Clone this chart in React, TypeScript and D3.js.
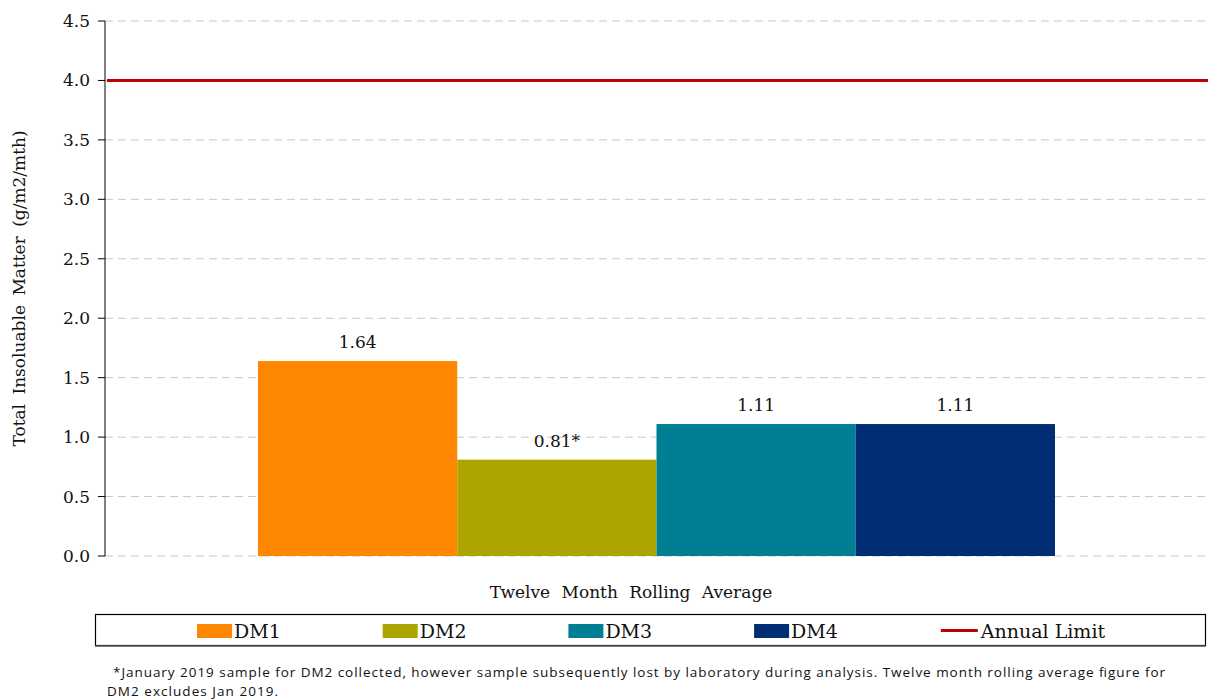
import React, { useEffect } from 'react';
import * as d3 from 'd3';

const category = 'Twelve Month Rolling Average';
const series = ['DM1', 'DM2', 'DM3', 'DM4'];
const values = [1.64, 0.81, 1.11, 1.11];
const valueLabels = ['1.64', '0.81*', '1.11', '1.11'];
const colors = ['#FF8600', '#ADA400', '#007E94', '#002D74'];
const annualLimit = 4.0;
const yTicks = [0, 0.5, 1, 1.5, 2, 2.5, 3, 3.5, 4, 4.5];
const footnote = [
  '*January 2019 sample for DM2 collected, however sample subsequently lost by laboratory during analysis. Twelve month rolling average figure for',
  'DM2 excludes Jan 2019.',
];

const W = 1208;
const H = 700;
const margin = { top: 21, right: 0, bottom: 144, left: 105 };
const serif = '"DejaVu Serif", "Liberation Serif", serif';
const sans = '"Open Sans", "Liberation Sans", sans-serif';

export default function App() {
  useEffect(() => {
    document.body.style.margin = '0';
  }, []);

  const x0 = d3.scaleBand().domain([category]).range([margin.left, W - margin.right]).paddingInner(0).paddingOuter(0.192);
  const x1 = d3.scaleBand().domain(series).range([0, x0.bandwidth()]).padding(0);
  const y = d3.scaleLinear().domain([0, 4.5]).range([H - margin.bottom, margin.top]);

  const legendItems = [...series, 'Annual Limit'];

  return (
    <svg width={W} height={H} style={{ display: 'block', background: '#fff' }}>
      {/* gridlines */}
      {yTicks.map(t => (
        <line key={'g' + t} x1={margin.left} x2={W} y1={y(t)} y2={y(t)}
          stroke="#c8c8c8" strokeWidth={1} strokeDasharray="8,5" />
      ))}

      {/* bars */}
      {series.map((s, i) => (
        <rect key={s} x={x0(category)! + x1(s)!} y={y(values[i])} width={x1.bandwidth()}
          height={y(0) - y(values[i])} fill={colors[i]} />
      ))}

      {/* value labels */}
      {series.map((s, i) => (
        <text key={'l' + s} x={x0(category)! + x1(s)! + x1.bandwidth() / 2} y={y(values[i]) - 13}
          textAnchor="middle" fontFamily={serif} fontSize={17} fill="#111">{valueLabels[i]}</text>
      ))}

      {/* annual limit */}
      <line x1={margin.left + 2} x2={W} y1={y(annualLimit)} y2={y(annualLimit)} stroke="#C00000" strokeWidth={3} />

      {/* y axis */}
      <line x1={margin.left} x2={margin.left} y1={y(4.5)} y2={y(0)} stroke="#000" strokeWidth={1} />
      {yTicks.map(t => (
        <g key={'t' + t}>
          <line x1={margin.left - 7} x2={margin.left} y1={y(t)} y2={y(t)} stroke="#000" />
          <text x={margin.left - 15} y={y(t)} dy="0.35em" textAnchor="end"
            fontFamily={serif} fontSize={17} fill="#111">{d3.format('.1f')(t)}</text>
        </g>
      ))}
      <text transform={`translate(25,${(y(0) + y(4.5)) / 2}) rotate(-90)`} textAnchor="middle"
        fontFamily={serif} fontSize={17} wordSpacing={4} fill="#111">Total Insoluable Matter (g/m2/mth)</text>

      {/* x axis label */}
      <text x={631} y={598} textAnchor="middle" fontFamily={serif} fontSize={17} wordSpacing={6} fill="#111">{category}</text>

      {/* legend */}
      <rect x={95.5} y={614.5} width={1110} height={31} fill="none" stroke="#000" strokeWidth={1.2} />
      <line x1={95} x2={1206} y1={646} y2={646} stroke="#555" strokeWidth={1.5} />
      {legendItems.map((s, i) => {
        const lx = 197 + i * 185.7;
        return (
          <g key={'lg' + s}>
            {i < series.length
              ? <rect x={lx} y={624} width={35} height={14} fill={colors[i]} />
              : <line x1={lx + 1} x2={lx + 38} y1={630.5} y2={630.5} stroke="#C00000" strokeWidth={3} />}
            <text x={i < series.length ? lx + 37 : lx + 41} y={638} fontFamily={serif} fontSize={19} fill="#111">{s}</text>
          </g>
        );
      })}

      {/* footnote */}
      <text x={113} y={677} fontFamily={sans} fontSize={13.5} fill="#111" textLength={1052} lengthAdjust="spacing">{footnote[0]}</text>
      <text x={107} y={696} fontFamily={sans} fontSize={13.5} fill="#111" textLength={171} lengthAdjust="spacing">{footnote[1]}</text>
    </svg>
  );
}
